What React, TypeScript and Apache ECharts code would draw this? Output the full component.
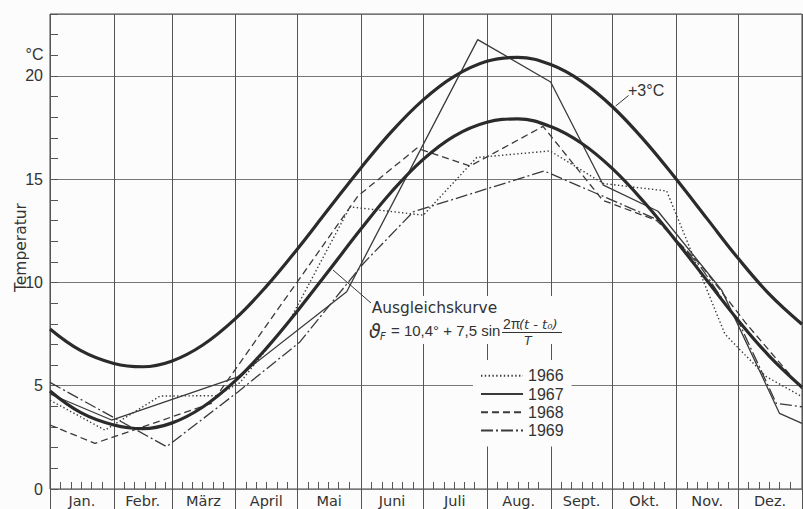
import { useEffect, useRef } from "react";
import * as echarts from "echarts";

// ---------- data ----------
const monthNames = ["Jan.", "Febr.", "März", "April", "Mai", "Juni", "Juli", "Aug.", "Sept.", "Okt.", "Nov.", "Dez."];
const monthLengths = [31, 28, 31, 30, 31, 30, 31, 31, 30, 31, 30, 31];
const tickOffsets = [5, 10, 15, 20, 25];
const yMax = 23;

// Ausgleichskurve, day of year -> °C
const fitDays = [0, 15, 31, 45, 59, 74, 90, 105, 120, 135, 151, 166, 181, 196, 212, 227, 243, 258, 273, 288, 304, 319, 334, 349, 365];
const fitValues = [4.75, 3.7, 3.1, 2.92, 3.19, 3.96, 5.25, 6.81, 8.61, 10.53, 12.6, 14.42, 15.95, 17.08, 17.76, 17.92, 17.55, 16.74, 15.51, 13.93, 12.0, 10.08, 8.17, 6.45, 4.93];
// Ausgleichskurve + 3 °C
const fitPlus3Values = [7.75, 6.7, 6.08, 5.92, 6.19, 6.96, 8.25, 9.81, 11.61, 13.53, 15.56, 17.33, 18.83, 19.97, 20.71, 20.9, 20.55, 19.74, 18.51, 16.93, 15.0, 13.08, 11.17, 9.45, 7.98];

const days1966 = [0, 26.7, 53.4, 80.9, 92.2, 116.5, 145.6, 181.2, 207.1, 242.7, 268.6, 299.3, 327.6, 347.5, 365];
const temps1966 = [4.3, 2.85, 4.5, 4.52, 5.15, 8.2, 13.66, 13.26, 16.05, 16.37, 14.79, 14.43, 7.5, 5.45, 4.47];

const days1967 = [0, 29.9, 91.2, 144.0, 207.6, 243.0, 268.6, 295.1, 326.0, 354.1, 365];
const temps1967 = [4.6, 3.34, 5.43, 9.55, 21.76, 19.71, 14.71, 13.45, 9.63, 3.66, 3.18];

const days1968 = [0, 21.8, 78.3, 149.6, 178.0, 203.9, 239.3, 268.3, 294.5, 315.5, 338.0, 365];
const temps1968 = [3.1, 2.21, 4.15, 14.2, 16.5, 15.64, 17.56, 13.98, 13.0, 10.9, 8.0, 4.85];

const days1969 = [0, 56.6, 91.2, 121.3, 152.1, 176.3, 239.8, 294.6, 315.5, 334.9, 352.5, 365];
const temps1969 = [5.16, 2.05, 4.7, 7.12, 10.92, 13.42, 15.4, 13.05, 10.8, 7.95, 4.15, 3.98];

// ---------- helpers ----------
const zip = (xs: number[], ys: number[]) => xs.map((x, i) => [x, ys[i]]);
const monthStarts: number[] = [];
{
  let acc = 0;
  for (const l of monthLengths) {
    monthStarts.push(acc);
    acc += l;
  }
  monthStarts.push(acc);
}
const monthMids = monthLengths.map((l, i) => monthStarts[i] + l / 2);
const minorTickDays: number[] = [];
monthStarts.slice(0, 12).forEach((s) => tickOffsets.forEach((o) => minorTickDays.push(s + o)));

const INK = "#333";
const THIN = "#3a3a3a";
const BG = "#fcfcfc";
const WORD_FONT = "DejaVu Sans";
const NUM_FONT = "Liberation Sans";

export default function App() {
  const ref = useRef<HTMLDivElement>(null);

  useEffect(() => {
    document.body.style.margin = "0";
    document.body.style.background = BG;
    if (!ref.current) return;
    const chart = echarts.init(ref.current, null, { renderer: "svg" });

    const yearSeries = (name: string, days: number[], temps: number[], type: any, width: number) => ({
      name,
      type: "line",
      data: zip(days, temps),
      symbol: "none",
      showSymbol: false,
      smooth: false,
      z: 3,
      lineStyle: { color: THIN, width, type },
      itemStyle: { color: THIN },
    });

    const option: any = {
      animation: false,
      backgroundColor: BG,
      grid: { left: 50, top: 14, right: 1, bottom: 20, show: true, borderColor: "#444", borderWidth: 1, backgroundColor: "transparent" },
      xAxis: {
        type: "value",
        min: 0,
        max: 365,
        axisLine: { show: false },
        axisTick: { show: false },
        axisLabel: { show: false },
        splitLine: { show: false },
      },
      yAxis: [
        {
          type: "value",
          min: 0,
          max: yMax,
          interval: 5,
          axisLine: { show: false },
          axisTick: { show: false },
          axisLabel: {
            margin: 7,
            fontFamily: NUM_FONT,
            fontSize: 16,
            color: INK,
            formatter: (v: number) => (v % 5 === 0 && v <= 20 ? String(v) : ""),
          },
          splitLine: { show: true, lineStyle: { color: "#777", width: 1 } },
        },
        {
          type: "value",
          min: 0,
          max: yMax,
          interval: 1,
          position: "left",
          axisLine: { show: false },
          axisTick: { show: true, inside: true, length: 8, lineStyle: { color: "#555", width: 1 } },
          axisLabel: { show: false },
          splitLine: { show: false },
        },
      ],
      legend: {
        data: ["1966", "1967", "1968", "1969"],
        orient: "vertical",
        left: 473,
        top: 360,
        padding: [7.7, 8, 8, 7],
        itemWidth: 42,
        itemHeight: 14,
        itemGap: 2.3,
        backgroundColor: BG,
        selectedMode: false,
        itemStyle: { opacity: 0, borderWidth: 0 },
        textStyle: { fontFamily: NUM_FONT, fontSize: 16, color: INK, lineHeight: 16 },
      },
      series: [
        // month grid lines (extend through the label row)
        {
          type: "custom",
          silent: true,
          clip: false,
          z: 1,
          data: monthStarts.map((d) => [d, 0]),
          encode: { x: 0, y: 1 },
          renderItem: (_p: any, api: any) => {
            const top = api.coord([api.value(0), yMax]);
            const x = Math.round(top[0]) + 0.5;
            return {
              type: "line",
              shape: { x1: x, y1: top[1], x2: x, y2: api.getHeight() },
              style: { stroke: "#555", lineWidth: 1 },
            };
          },
        },
        // minor day ticks on the x axis
        {
          type: "custom",
          silent: true,
          clip: false,
          z: 1,
          data: minorTickDays.map((d) => [d, 0]),
          encode: { x: 0, y: 1 },
          renderItem: (_p: any, api: any) => {
            const p = api.coord([api.value(0), 0]);
            const x = Math.round(p[0]) + 0.5;
            return {
              type: "line",
              shape: { x1: x, y1: p[1], x2: x, y2: p[1] - 7 },
              style: { stroke: "#555", lineWidth: 1 },
            };
          },
        },
        // month labels
        {
          type: "custom",
          silent: true,
          clip: false,
          z: 1,
          data: monthMids.map((d, i) => [d, 0, i]),
          encode: { x: 0, y: 1 },
          renderItem: (_p: any, api: any) => {
            const p = api.coord([api.value(0), 0]);
            return {
              type: "text",
              x: p[0],
              y: p[1] + 11.5,
              style: {
                text: monthNames[api.value(2)],
                fill: INK,
                fontFamily: WORD_FONT,
                fontSize: 14.5,
                align: "center",
                verticalAlign: "middle",
              },
            };
          },
        },
        {
          name: "Ausgleichskurve",
          type: "line",
          data: zip(fitDays, fitValues),
          symbol: "none",
          smooth: 0.4,
          z: 4,
          lineStyle: { color: "#2b2b2b", width: 3.2 },
        },
        {
          name: "+3 °C",
          type: "line",
          data: zip(fitDays, fitPlus3Values),
          symbol: "none",
          smooth: 0.4,
          z: 4,
          lineStyle: { color: "#2b2b2b", width: 3.2 },
        },
        yearSeries("1966", days1966, temps1966, [1.4, 2.4], 1.4),
        yearSeries("1967", days1967, temps1967, "solid", 1.3),
        yearSeries("1968", days1968, temps1968, [7, 4], 1.3),
        yearSeries("1969", days1969, temps1969, [12, 3, 2, 3], 1.3),
      ],
      graphic: [
        {
          type: "text",
          x: 21,
          y: 247.5,
          rotation: Math.PI / 2,
          silent: true,
          style: { text: "Temperatur", fontFamily: WORD_FONT, fontSize: 15.5, fill: INK, align: "center", verticalAlign: "middle" },
        },
        {
          type: "text",
          x: 43.5,
          y: 54,
          silent: true,
          style: { text: "°C", fontFamily: NUM_FONT, fontSize: 16, fill: INK, align: "right", verticalAlign: "middle" },
        },
        { type: "rect", z: 5, silent: true, shape: { x: 366, y: 296, width: 197, height: 48 }, style: { fill: BG } },
        { type: "line", z: 6, silent: true, shape: { x1: 333, y1: 270, x2: 371, y2: 303 }, style: { stroke: INK, lineWidth: 1 } },
        {
          type: "text",
          z: 6,
          x: 371.7,
          y: 307.5,
          silent: true,
          style: { text: "Ausgleichskurve", fontFamily: WORD_FONT, fontSize: 15.4, fill: INK, align: "left", verticalAlign: "middle" },
        },
        {
          type: "text",
          z: 6,
          x: 369,
          y: 330.5,
          silent: true,
          style: { text: "ϑ", fontFamily: WORD_FONT, fontSize: 19, fontStyle: "italic", fill: INK, align: "left", verticalAlign: "middle" },
        },
        {
          type: "text",
          z: 6,
          x: 380,
          y: 336,
          silent: true,
          style: { text: "F", fontFamily: WORD_FONT, fontSize: 10, fontStyle: "italic", fill: INK, align: "left", verticalAlign: "middle" },
        },
        {
          type: "text",
          z: 6,
          x: 391,
          y: 330,
          silent: true,
          style: { text: "= 10,4° + 7,5 sin", fontFamily: NUM_FONT, fontSize: 15, fill: INK, align: "left", verticalAlign: "middle" },
        },
        {
          type: "text",
          z: 6,
          x: 503,
          y: 324,
          silent: true,
          style: { text: "2π", fontFamily: NUM_FONT, fontSize: 14, fill: INK, align: "left", verticalAlign: "middle" },
        },
        {
          type: "text",
          z: 6,
          x: 519,
          y: 324,
          silent: true,
          style: { text: "(t - t₀)", fontFamily: WORD_FONT, fontSize: 13, fontStyle: "italic", fill: INK, align: "left", verticalAlign: "middle" },
        },
        { type: "line", z: 6, silent: true, shape: { x1: 502, y1: 332.5, x2: 562, y2: 332.5 }, style: { stroke: INK, lineWidth: 1 } },
        {
          type: "text",
          z: 6,
          x: 528,
          y: 340.5,
          silent: true,
          style: { text: "T", fontFamily: WORD_FONT, fontSize: 12, fontStyle: "italic", fill: INK, align: "center", verticalAlign: "middle" },
        },
        { type: "line", z: 6, silent: true, shape: { x1: 615.7, y1: 106, x2: 628.5, y2: 95.5 }, style: { stroke: INK, lineWidth: 1 } },
        {
          type: "text",
          z: 6,
          x: 628,
          y: 90.8,
          silent: true,
          style: { text: "+3°C", fontFamily: NUM_FONT, fontSize: 16, fill: INK, align: "left", verticalAlign: "middle" },
        },
      ],
    };

    chart.setOption(option);
    return () => chart.dispose();
  }, []);

  return <div ref={ref} style={{ position: "fixed", left: 0, top: 0, width: 803, height: 509 }} />;
}
